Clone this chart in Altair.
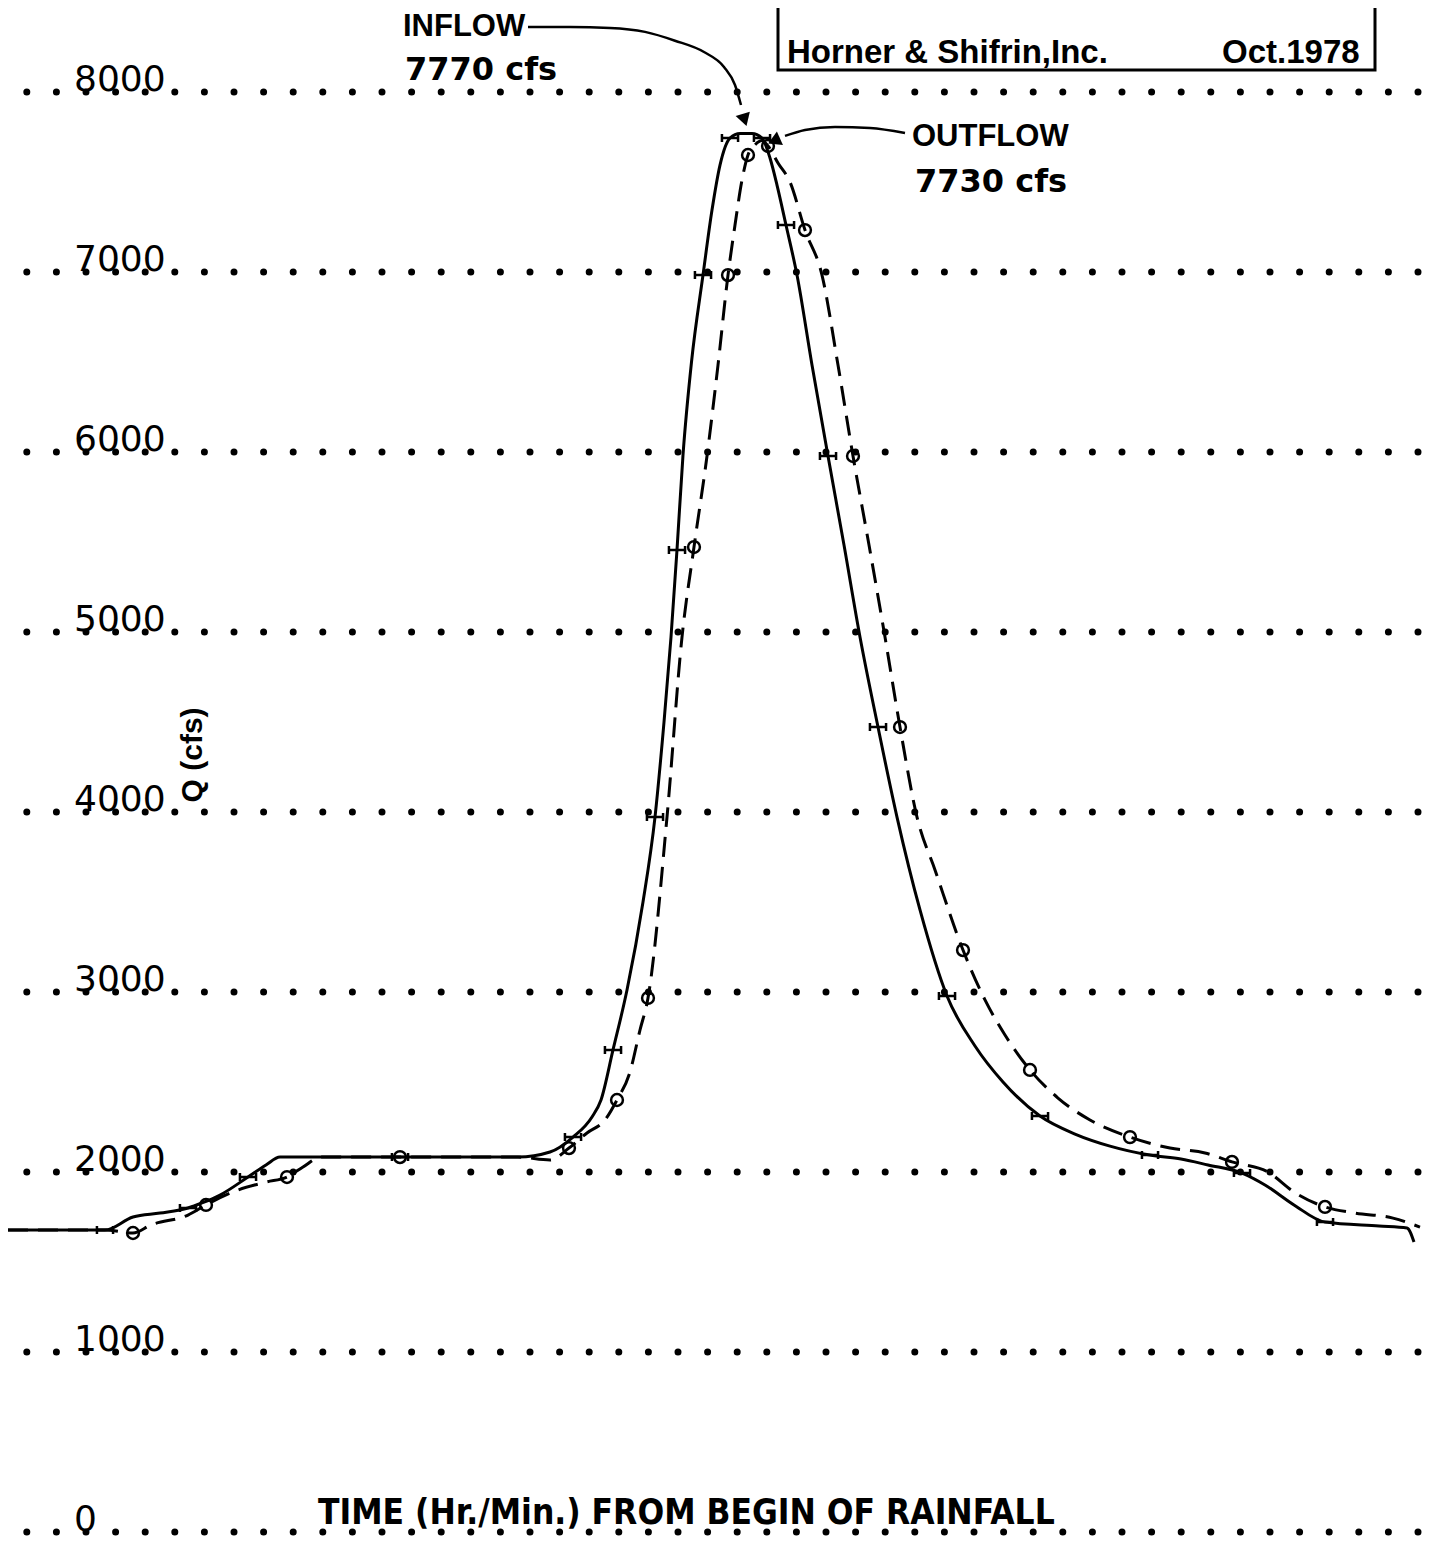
import altair as alt
import pandas as pd

# ---------------- data ----------------
# Time has no numeric labels in the original; t is a time step along the axis.
inflow_t = [0, 97, 125, 152, 180, 194, 212, 240, 258, 272, 392, 510, 542, 565, 584,
            593, 605, 619, 635, 647, 656, 663, 669, 675, 683.5, 695, 704, 712, 722,
            732, 744, 754, 762, 769, 778, 789, 804, 820, 836, 852, 870, 889, 912,
            939, 967, 995, 1032, 1067, 1102, 1142, 1173, 1200, 1234, 1257, 1286,
            1317, 1371, 1399, 1406]
inflow_q = [1678, 1678, 1750, 1772, 1800, 1828, 1872, 1972, 2039, 2083, 2083, 2083,
            2111, 2194, 2306, 2400, 2678, 3011, 3500, 3972, 4500, 4972, 5456, 5983,
            6500, 6983, 7344, 7594, 7744, 7770, 7770, 7744, 7633, 7483, 7261, 6983,
            6483, 5978, 5483, 4972, 4472, 3972, 3456, 2978, 2700, 2500, 2311, 2211,
            2144, 2094, 2072, 2039, 1994, 1928, 1817, 1722, 1700, 1689, 1611]

outflow_t = [0, 97, 125, 143, 180, 198, 230, 258, 279, 295, 313, 392, 510, 542, 561,
             579, 597, 609, 622, 632, 640, 659, 674, 686, 699, 710, 720, 727, 734,
             740, 747, 754, 760, 770, 782, 797, 814, 830, 845, 861, 877, 892, 909,
             927, 955, 977, 997, 1022, 1050, 1082, 1122, 1162, 1197, 1224, 1260,
             1286, 1317, 1347, 1385, 1412]
outflow_q = [1678, 1678, 1661, 1706, 1761, 1817, 1900, 1944, 1972, 2028, 2083, 2083,
             2083, 2067, 2133, 2217, 2289, 2400, 2556, 2789, 2967, 3972, 4972, 5472,
             5978, 6483, 6983, 7261, 7511, 7650, 7706, 7730, 7700, 7606, 7500, 7233,
             6983, 6483, 5978, 5483, 4972, 4472, 3972, 3678, 3233, 2956, 2761, 2567,
             2411, 2289, 2194, 2133, 2106, 2056, 2000, 1889, 1806, 1772, 1744, 1694]

y_ticks = [0, 1000, 2000, 3000, 4000, 5000, 6000, 7000, 8000]
y_tick_labels = ["0", "1000", "2000", "3000", "4000", "5000", "6000", "7000", "8000"]

# annotation texts and anchors (data units)
ann_word = ["INFLOW", "OUTFLOW"]
ann_word_t = [395, 904]
ann_word_q = [8361, 7750]
ann_value = ["7770 cfs", "7730 cfs"]
ann_value_t = [397, 907]
ann_value_q = [8122, 7500]

credit_text = ["Horner & Shifrin,Inc.", "Oct.1978"]
credit_t = [779, 1214]
credit_q = [8217, 8217]

box_t = [770]
box_t2 = [1367]
box_q = [8122]
box_q2 = [8900]

in_arrow_t = [520, 562, 602, 637, 667, 696, 716, 727, 733]
in_arrow_q = [8361, 8361, 8356, 8334, 8285, 8222, 8139, 8039, 7928]
out_arrow_t = [777, 797, 827, 862, 897]
out_arrow_q = [7756, 7789, 7806, 7800, 7772]
head_t = [736, 768]
head_q = [7856, 7733]
head_angle = [163, 246]

y_title = "Q (cfs)"
x_title = "TIME (Hr./Min.)  FROM  BEGIN  OF  RAINFALL"

# ---------------- chart ----------------
W, H = 1422, 1530
xs = alt.Scale(domain=[0, 1422], nice=False, zero=False)
ys = alt.Scale(domain=[-33.3, 8466.7], nice=False, zero=False)


def X(f="t"):
    return alt.X(f + ":Q", scale=xs, axis=None)


def Y(f="q"):
    return alt.Y(f + ":Q", scale=ys, axis=None)


inflow = pd.DataFrame({"t": inflow_t, "q": inflow_q})
outflow = pd.DataFrame({"t": outflow_t, "q": outflow_q})
ticks = pd.DataFrame({"q": y_ticks, "label": y_tick_labels})

grid = alt.Chart(ticks).mark_rule(
    color="black", strokeWidth=7, strokeCap="round",
    strokeDash=[0, 29.6], strokeDashOffset=17.6
).encode(y=Y())

tick_labels = alt.Chart(ticks).mark_text(
    align="left", baseline="alphabetic", fontSize=36, dy=-1,
    font="DejaVu Sans", color="black"
).encode(x=alt.value(66), y=Y(), text="label:N")

in_line = alt.Chart(inflow).mark_line(
    color="black", strokeWidth=3, interpolate="monotone"
).encode(x=X(), y=Y())

out_line = alt.Chart(outflow).mark_line(
    color="black", strokeWidth=3, strokeDash=[20, 10], interpolate="monotone"
).encode(x=X(), y=Y())

in_marks = alt.Chart(inflow.iloc[1:-1:3]).mark_point(
    shape="M-1,-0.5L-1,0.5M-1,0L1,0M1,-0.5L1,0.5", filled=False,
    color="black", strokeWidth=2.5, size=260, opacity=1
).encode(x=X(), y=Y())

out_marks = alt.Chart(outflow.iloc[2:-1:3]).mark_point(
    shape="circle", filled=False, color="black", strokeWidth=2.5, size=140, opacity=1
).encode(x=X(), y=Y())

word = pd.DataFrame({"t": ann_word_t, "q": ann_word_q, "text": ann_word})
word_layer = alt.Chart(word).mark_text(
    align="left", baseline="middle", fontSize=31, fontWeight="bold",
    font="Liberation Sans", color="black"
).encode(x=X(), y=Y(), text="text:N")

value = pd.DataFrame({"t": ann_value_t, "q": ann_value_q, "text": ann_value})
value_layer = alt.Chart(value).mark_text(
    align="left", baseline="middle", fontSize=32, fontWeight="bold",
    font="DejaVu Sans", color="black"
).encode(x=X(), y=Y(), text="text:N")

credit = pd.DataFrame({"t": credit_t, "q": credit_q, "text": credit_text})
credit_layer = alt.Chart(credit).mark_text(
    align="left", baseline="middle", fontSize=33, fontWeight="bold",
    font="Liberation Sans", color="black"
).encode(x=X(), y=Y(), text="text:N")

box = pd.DataFrame({"t": box_t, "t2": box_t2, "q": box_q, "q2": box_q2})
box_layer = alt.Chart(box).mark_rect(
    fillOpacity=0, stroke="black", strokeWidth=3, clip=True
).encode(x=X(), x2="t2:Q", y=Y(), y2="q2:Q")

in_arrow = alt.Chart(pd.DataFrame({"t": in_arrow_t, "q": in_arrow_q})).mark_line(
    color="black", strokeWidth=2.5, interpolate="monotone"
).encode(x=X(), y=Y())
out_arrow = alt.Chart(pd.DataFrame({"t": out_arrow_t, "q": out_arrow_q})).mark_line(
    color="black", strokeWidth=2.5, interpolate="monotone"
).encode(x=X(), y=Y())
heads = alt.Chart(pd.DataFrame({"t": head_t, "q": head_q, "a": head_angle})).mark_point(
    shape="triangle", filled=True, color="black", size=220, opacity=1
).encode(x=X(), y=Y(), angle=alt.Angle("a:Q", scale=None))

ytitle_layer = alt.Chart(pd.DataFrame({"t": [185], "q": [4317], "text": [y_title]})).mark_text(
    align="center", baseline="middle", angle=270, fontSize=30, fontWeight="bold",
    font="Liberation Sans", color="black"
).encode(x=X(), y=Y(), text="text:N")

xtitle_layer = alt.Chart(pd.DataFrame({"t": [310], "q": [105], "text": [x_title]})).mark_text(
    align="left", baseline="middle", fontSize=35, fontWeight="bold",
    font="Liberation Sans Narrow, DejaVu Sans Condensed, sans-serif", color="black"
).encode(x=X(), y=Y(), text="text:N")

chart = alt.layer(
    grid, tick_labels, box_layer, credit_layer, in_line, out_line, in_marks,
    out_marks, in_arrow, out_arrow, heads, word_layer, value_layer,
    ytitle_layer, xtitle_layer
).properties(
    width=W, height=H, padding=0, background="white",
    autosize=alt.AutoSizeParams(type="none")
).configure_view(strokeWidth=0, stroke="transparent")

chart.save("out.html", embed_options={"renderer": "svg", "actions": False})
